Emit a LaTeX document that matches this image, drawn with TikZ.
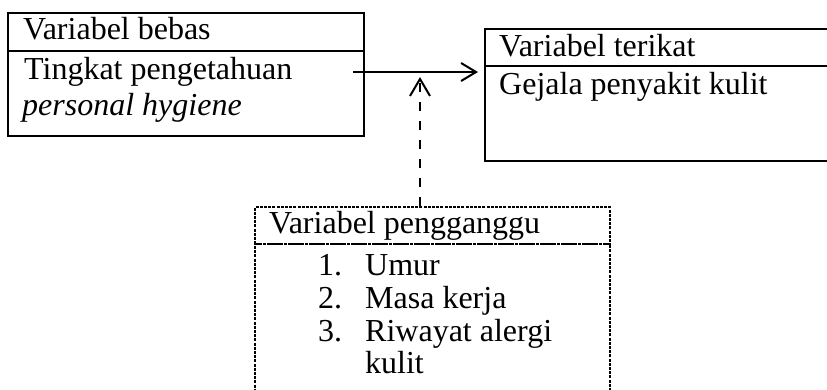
\documentclass[tikz,border=0pt]{standalone}
\usepackage{fontspec}
\setmainfont{Liberation Serif}
\usetikzlibrary{arrows.meta}
\begin{document}
\begin{tikzpicture}[x=1pt,y=1pt,
  box/.style={draw,line width=2pt,rectangle,inner sep=0pt,anchor=north west},
  dbox/.style={draw,line width=1.8pt,dash pattern=on 3pt off 1.2pt,rectangle,inner sep=0pt,anchor=north west},
  txt/.style={anchor=base west,inner sep=0pt,font=\fontsize{32}{36}\selectfont},
  link/.style={line width=2pt,-{Straight Barb[length=15pt,width=18pt,line width=2pt]}},
  dlink/.style={line width=2pt,dash pattern=on 9pt off 10pt,-{Straight Barb[length=17pt,width=20pt,line width=2pt]}}]
\useasboundingbox (0,0) rectangle (827,-389);
\clip (0,0) rectangle (827,-389);
% left box
\node[box,minimum width=356pt,minimum height=38pt] (bebasH) at (7,-12) {};
\node[box,minimum width=356pt,minimum height=85pt] (bebasB) at (7,-50) {};
\node[txt] (t1) at (23,-39) {Variabel bebas};
\node[txt] (t2) at (24,-79) {Tingkat pengetahuan};
\node[txt] (t3) at (22,-115) {\itshape personal hygiene};
% right box
\node[box,minimum width=360pt,minimum height=37pt] (terikatH) at (484,-28) {};
\node[box,minimum width=360pt,minimum height=95pt] (terikatB) at (484,-65) {};
\node[txt] (t4) at (499,-56) {Variabel terikat};
\node[txt] (t5) at (499,-94) {Gejala penyakit kulit};
% bottom box
\node[dbox,minimum width=355pt,minimum height=37pt] (gangguH) at (254,-206) {};
\node[dbox,minimum width=355pt,minimum height=170pt] (gangguB) at (254,-243) {};
\node[txt] (t6) at (269,-233) {Variabel pengganggu};
\node[txt] (n1) at (318,-275) {1.};
\node[txt] (i1) at (365,-275) {Umur};
\node[txt] (n2) at (318,-308) {2.};
\node[txt] (i2) at (365,-308) {Masa kerja};
\node[txt] (n3) at (318,-341) {3.};
\node[txt] (i3) at (365,-341) {Riwayat alergi};
\node[txt] (i4) at (365,-373) {kulit};
% connectors
\coordinate (aStart) at (353,-72);
\coordinate (dTip) at (420,-77);
\draw[link,shorten >=6pt] (aStart) -- (aStart -| terikatB.west);
\draw[dlink] (gangguH.north -| dTip) -- (dTip);
\end{tikzpicture}
\end{document}
